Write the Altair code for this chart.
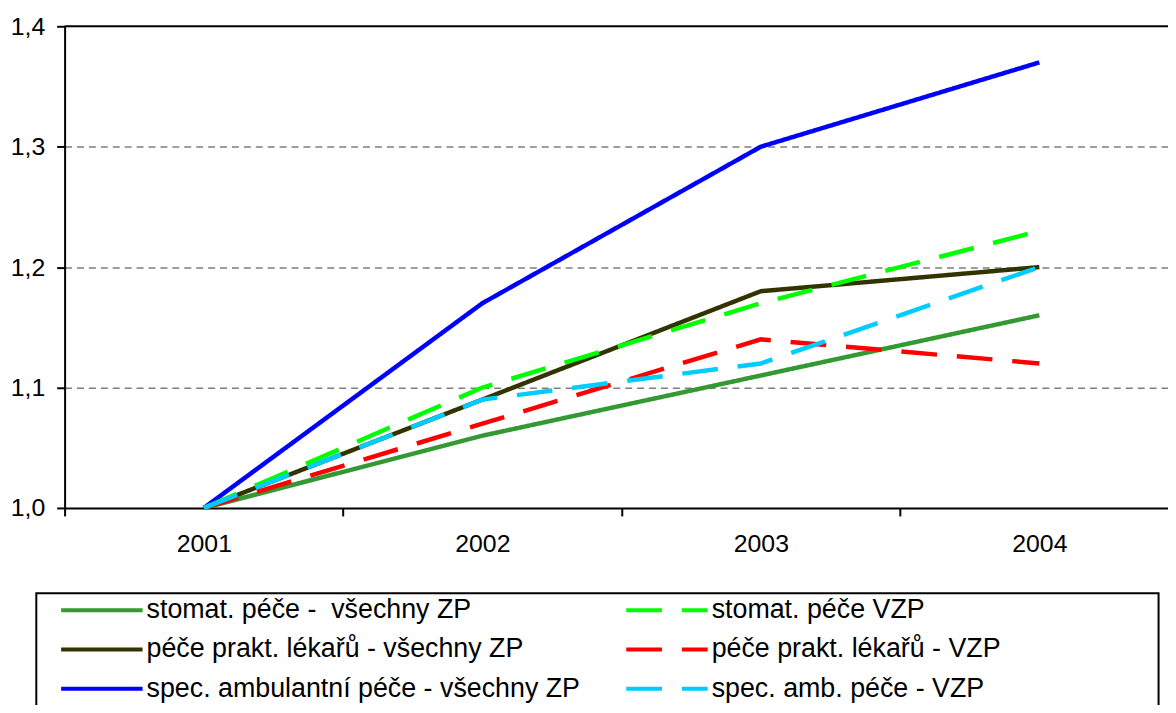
import altair as alt
import pandas as pd

years = [2001, 2002, 2003, 2004]

name_stomat_all = "stomat. péče -\u00a0 všechny ZP"
name_prakt_all = "péče prakt. lékařů - všechny ZP"
name_spec_all = "spec. ambulantní péče - všechny ZP"
name_stomat_vzp = "stomat. péče VZP"
name_prakt_vzp = "péče prakt. lékařů - VZP"
name_spec_vzp = "spec. amb. péče - VZP"

stomat_all = [1.00, 1.06, 1.11, 1.16]
prakt_all = [1.00, 1.09, 1.18, 1.20]
spec_all = [1.00, 1.17, 1.30, 1.37]
stomat_vzp = [1.00, 1.10, 1.17, 1.23]
prakt_vzp = [1.00, 1.07, 1.14, 1.12]
spec_vzp = [1.00, 1.09, 1.12, 1.20]

# drawing order (solid first, dashed on top)
draw_order = [
    (name_stomat_all, stomat_all),
    (name_prakt_all, prakt_all),
    (name_spec_all, spec_all),
    (name_stomat_vzp, stomat_vzp),
    (name_prakt_vzp, prakt_vzp),
    (name_spec_vzp, spec_vzp),
]

# legend order (column-major, 2 columns)
legend_order = [name_stomat_all, name_prakt_all, name_spec_all,
                name_stomat_vzp, name_prakt_vzp, name_spec_vzp]
colors = ["#339933", "#333300", "#0000FF", "#00FF00", "#FF0000", "#00CCFF"]
solid = [1, 0]
dashed = [36, 20]
dashes = [solid, solid, solid, dashed, dashed, dashed]

y_ticks = [1.0, 1.1, 1.2, 1.3, 1.4]
x_tick_values = [2000.5, 2001, 2001.5, 2002, 2002.5, 2003, 2003.5, 2004]

rows = []
for i, (name, vals) in enumerate(draw_order):
    for y, v in zip(years, vals):
        rows.append({"rok": y, "serie": name, "hodnota": v, "poradi": i})
df = pd.DataFrame(rows)

FONT = "Liberation Sans"

legend = alt.Legend(
    title=None, orient="none", legendX=-5.5, legendY=574.5, columns=2,
    columnPadding=44, rowPadding=11.5, clipHeight=27, symbolType="stroke",
    symbolSize=6724, symbolStrokeWidth=4, labelFontSize=27, labelFont=FONT,
    labelColor="black", labelOffset=2, labelLimit=1000, padding=0,
)

lines = alt.Chart(df).mark_line(strokeWidth=4.5, strokeCap="butt", clip=False).encode(
    x=alt.X("rok:Q",
            scale=alt.Scale(domain=[2000.5, 2004.462], nice=False, zero=False),
            axis=alt.Axis(
                title=None, values=x_tick_values, grid=False,
                labelExpr="datum.value % 1 == 0 ? format(datum.value, 'd') : ''",
                tickOpacity={"condition": {"test": "datum.value % 1 != 0", "value": 1}, "value": 0},
                labelOverlap=False, labelFlush=False, labelBound=False,
                labelFontSize=25, labelFont=FONT, labelColor="black", labelPadding=16,
                tickSize=8, tickWidth=2, tickColor="black",
                domainColor="black", domainWidth=2,
            )),
    y=alt.Y("hodnota:Q",
            scale=alt.Scale(domain=[1.0, 1.4], nice=False, zero=False),
            axis=alt.Axis(
                title=None, values=y_ticks,
                labelExpr="replace(format(datum.value, '.1f'), '.', ',')",
                labelFontSize=25, labelFont=FONT, labelColor="black", labelPadding=12,
                tickSize=8, tickWidth=2, tickColor="black",
                domainColor="black", domainWidth=2,
                grid=True, gridColor="#7f7f7f", gridWidth=1.5, gridDash=[7, 5],
                gridOpacity={"condition": {"test": "datum.value > 1.05 && datum.value < 1.35", "value": 1}, "value": 0},
            )),
    color=alt.Color("serie:N", scale=alt.Scale(domain=legend_order, range=colors), legend=legend),
    strokeDash=alt.StrokeDash("serie:N", scale=alt.Scale(domain=legend_order, range=dashes), legend=legend),
    order=alt.Order("poradi:Q"),
    detail="serie:N",
)

anchor = pd.DataFrame({"a": [0]})
top_border = alt.Chart(anchor).mark_rule(color="black", strokeWidth=2).encode(y=alt.value(0))
frame = alt.Chart(anchor).mark_rect(filled=False, stroke="black", strokeWidth=2, clip=False).encode(
    x=alt.value(-28.5), x2=alt.value(1101.5), y=alt.value(571), y2=alt.value(720)
)

chart = alt.layer(frame, lines, top_border).properties(
    width=1111, height=485,
    autosize=alt.AutoSizeParams(type="none"),
    padding={"left": 57, "top": 16, "right": 0, "bottom": 196},
).configure_view(stroke=None).configure(background="white")

chart.save("out.html", embed_options={"renderer": "svg", "actions": False})
